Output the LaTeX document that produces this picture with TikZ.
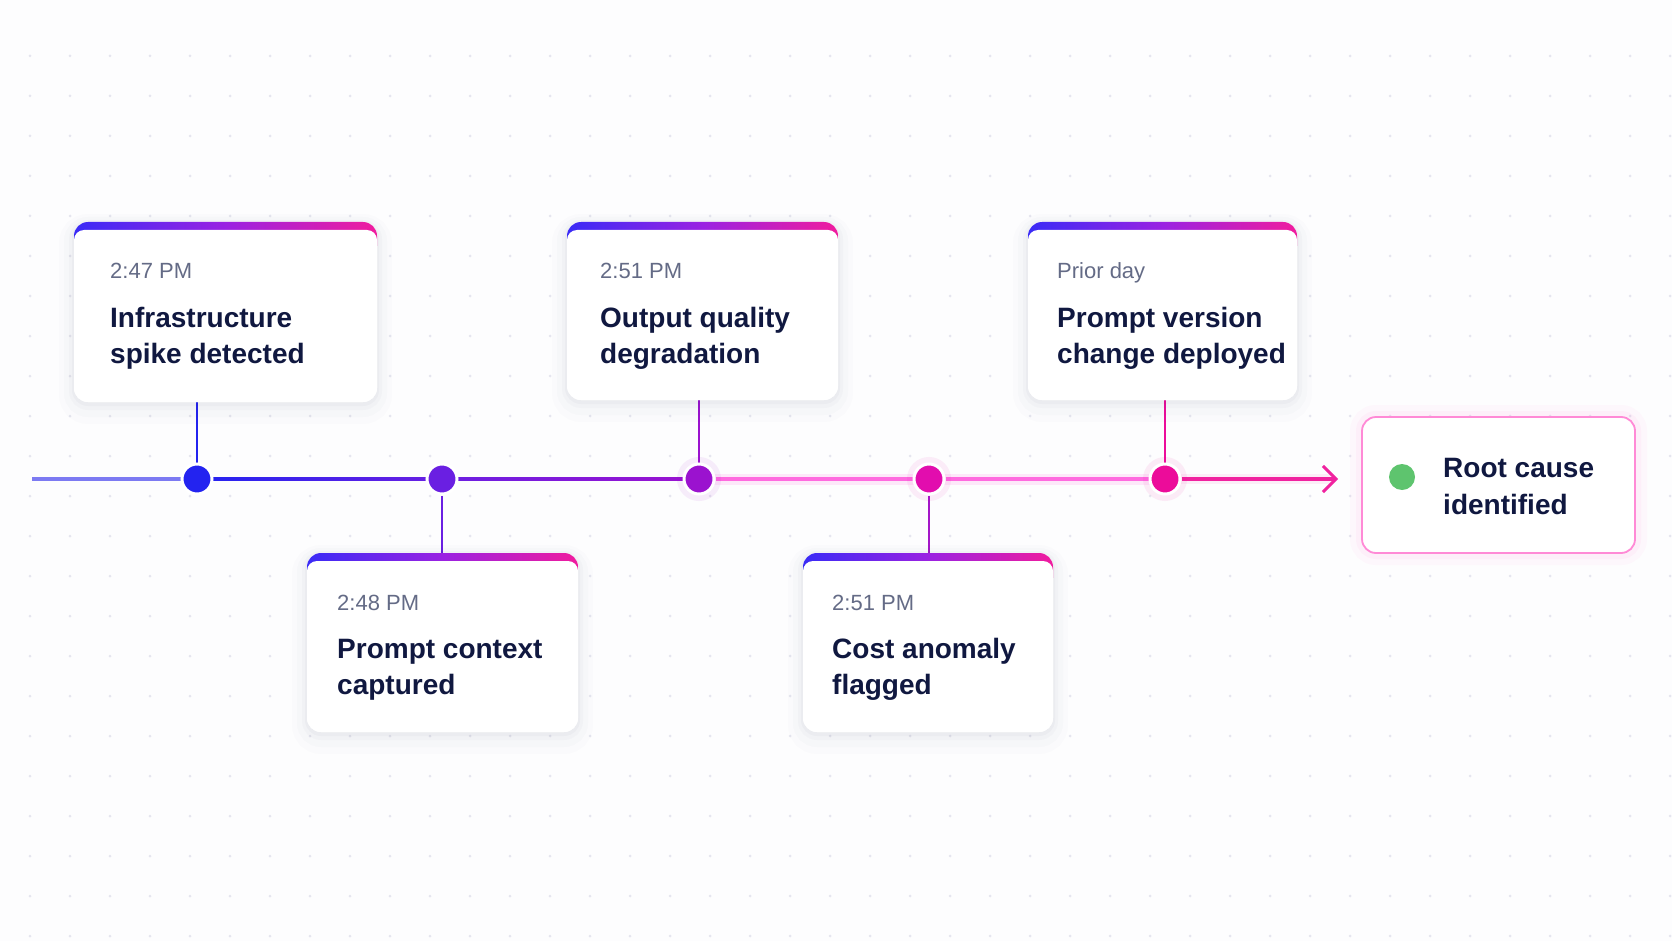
\documentclass[tikz,border=0pt]{standalone}
\usepackage{fontspec}
\setmainfont{Liberation Sans}
\usetikzlibrary{arrows.meta,backgrounds}
\definecolor{bgc}{HTML}{FDFDFE}
\definecolor{gridc}{HTML}{E5E5EF}
\definecolor{navy}{HTML}{101840}
\definecolor{grayt}{HTML}{646B86}
\definecolor{dA}{HTML}{2323F0}
\definecolor{dB}{HTML}{6A1FE2}
\definecolor{dC}{HTML}{9B12CF}
\definecolor{dD}{HTML}{E20DAE}
\definecolor{dE}{HTML}{EC0C9A}
\definecolor{cD}{HTML}{A416C8}
\definecolor{barA}{HTML}{3A2BF6}
\definecolor{barB}{HTML}{9A22E2}
\definecolor{barC}{HTML}{F01C9E}
\definecolor{pinkline}{HTML}{FF6ADF}
\definecolor{lineL}{HTML}{7C7AF2}
\definecolor{arrowc}{HTML}{F0229F}
\definecolor{rootborder}{HTML}{FF8AD6}
\definecolor{rootglow}{HTML}{FF5CC8}
\definecolor{okgreen}{HTML}{5EC46E}
\definecolor{shadowc}{HTML}{3A3F6A}
\newcommand\tmfont{\fontsize{22}{26}\selectfont}
\newcommand\ttlfont{\fontsize{28}{36}\selectfont\bfseries}
\tikzset{
  card/.style={anchor=north west, inner sep=0pt, outer sep=0pt, fill=white, rounded corners=14pt,
    preaction={draw=shadowc, draw opacity=0.012, line width=30pt, transform canvas={yshift=-7pt}},
    preaction={draw=shadowc, draw opacity=0.016, line width=20pt, transform canvas={yshift=-5pt}},
    preaction={draw=shadowc, draw opacity=0.022, line width=10pt, transform canvas={yshift=-3pt}},
    preaction={draw=shadowc, draw opacity=0.03, line width=4pt, transform canvas={yshift=-2pt}},
    path picture={
      \shade[sharp corners, left color=barA, right color=barC, middle color=barB]
        ([yshift=2pt]path picture bounding box.north west) rectangle ([yshift=-24pt]path picture bounding box.north east);
      \fill[white, rounded corners=10pt]
        ([yshift=-8pt]path picture bounding box.north west) rectangle ([yshift=-20pt]path picture bounding box.south east);
    }},
  tm/.style={anchor=base west, inner sep=0pt, font=\tmfont, text=grayt},
  ttl/.style={anchor=base west, inner sep=0pt, font=\ttlfont, text=navy},
  dotn/.style={circle, minimum size=30pt, inner sep=0pt, fill=#1, draw=white, line width=3pt},
  glowdot/.style={dotn=#1, preaction={draw=#1, draw opacity=0.07, line width=14pt}},
  link/.style={line width=2pt},
  mainline/.style={line width=3.5pt},
  rootbox/.style={anchor=north west, inner sep=0pt, outer sep=0pt, fill=white, draw=rootborder,
    line width=1.8pt, rounded corners=14pt,
    preaction={draw=rootglow, draw opacity=0.035, line width=24pt},
    preaction={draw=rootglow, draw opacity=0.05, line width=12pt}},
}
\begin{document}
\begin{tikzpicture}[x=1pt,y=-1pt]
\useasboundingbox (0,0) rectangle (1672,941);

% cards
\node[card, minimum width=303pt, minimum height=180pt] (c1) at (74,222) {};
\node[card, minimum width=271pt, minimum height=179pt] (c2) at (307,553) {};
\node[card, minimum width=271pt, minimum height=178pt] (c3) at (567,222) {};
\node[card, minimum width=250pt, minimum height=179pt] (c4) at (803,553) {};
\node[card, minimum width=269pt, minimum height=178pt] (c5) at (1028,222) {};

% card texts
\node[tm]  (t1)  at ([xshift=36pt,yshift=-57pt]c1.north west) {2:47 PM};
\node[ttl] (h1a) at ([xshift=36pt,yshift=-105pt]c1.north west) {Infrastructure};
\node[ttl] (h1b) at ([xshift=36pt,yshift=-141pt]c1.north west) {spike detected};

\node[tm]  (t2)  at ([xshift=30pt,yshift=-57pt]c2.north west) {2:48 PM};
\node[ttl] (h2a) at ([xshift=30pt,yshift=-105pt]c2.north west) {Prompt context};
\node[ttl] (h2b) at ([xshift=30pt,yshift=-141pt]c2.north west) {captured};

\node[tm]  (t3)  at ([xshift=33pt,yshift=-57pt]c3.north west) {2:51 PM};
\node[ttl] (h3a) at ([xshift=33pt,yshift=-105pt]c3.north west) {Output quality};
\node[ttl] (h3b) at ([xshift=33pt,yshift=-141pt]c3.north west) {degradation};

\node[tm]  (t4)  at ([xshift=29pt,yshift=-57pt]c4.north west) {2:51 PM};
\node[ttl] (h4a) at ([xshift=29pt,yshift=-105pt]c4.north west) {Cost anomaly};
\node[ttl] (h4b) at ([xshift=29pt,yshift=-141pt]c4.north west) {flagged};

\node[tm]  (t5)  at ([xshift=29pt,yshift=-57pt]c5.north west) {Prior day};
\node[ttl] (h5a) at ([xshift=29pt,yshift=-105pt]c5.north west) {Prompt version};
\node[ttl] (h5b) at ([xshift=29pt,yshift=-141pt]c5.north west) {change deployed};

% root cause box
\node[rootbox, minimum width=273pt, minimum height=136pt] (root) at (1362,417) {};
\node[circle, fill=okgreen, minimum size=26pt, inner sep=0pt] (gd) at (1402,477) {};
\node[ttl] (r1) at ([xshift=81pt,yshift=-60pt]root.north west) {Root cause};
\node[ttl] (r2) at ([xshift=81pt,yshift=-97pt]root.north west) {identified};

% timeline dots
\coordinate (start) at (32,479);
\node[dotn=dA] (d1) at (197,479) {};
\node[dotn=dB] (d2) at (442,479) {};
\node[glowdot=dC] (d3) at (699,479) {};
\node[glowdot=dD] (d4) at (929,479) {};
\node[glowdot=dE] (d5) at (1165,479) {};

\begin{scope}[on background layer]
  \fill[bgc] (0,0) rectangle (1672,941);
  \foreach \i in {0,...,41}{
    \foreach \j in {0,...,22}{
      \fill[gridc] (30+40*\i,56+40*\j) circle (1.5pt);
    }
  }
  % main line
  \draw[mainline, lineL] (start) -- (d1);
  \shade[left color=dA, right color=dB] ([yshift=1.75pt]d1.center) rectangle ([yshift=-1.75pt]d2.center);
  \shade[left color=dB, right color=dC] ([yshift=1.75pt]d2.center) rectangle ([yshift=-1.75pt]d3.center);
  \draw[line width=11pt, pinkline, opacity=0.14] (d3.center) -- (d5.center);
  \draw[mainline, pinkline] (d3) -- (d4);
  \draw[mainline, pinkline] (d4) -- (d5);
  \draw[line width=10pt, arrowc, opacity=0.07] (d5.center) -- ([xshift=-30pt]d5 -| root.west);
  \draw[mainline, arrowc, -{Straight Barb[length=13pt,width=26pt,line width=3pt]}, shorten >=24pt]
    (d5) -- (d5 -| root.west);
  % stems
  \draw[link, dA] (d1) -- (d1 |- c1.south);
  \draw[link, dB] (d2) -- (d2 |- c2.north);
  \draw[link, dC] (d3) -- (d3 |- c3.south);
  \draw[link, cD] (d4) -- (d4 |- c4.north);
  \draw[link, dE] (d5) -- (d5 |- c5.south);
\end{scope}
\end{tikzpicture}
\end{document}
